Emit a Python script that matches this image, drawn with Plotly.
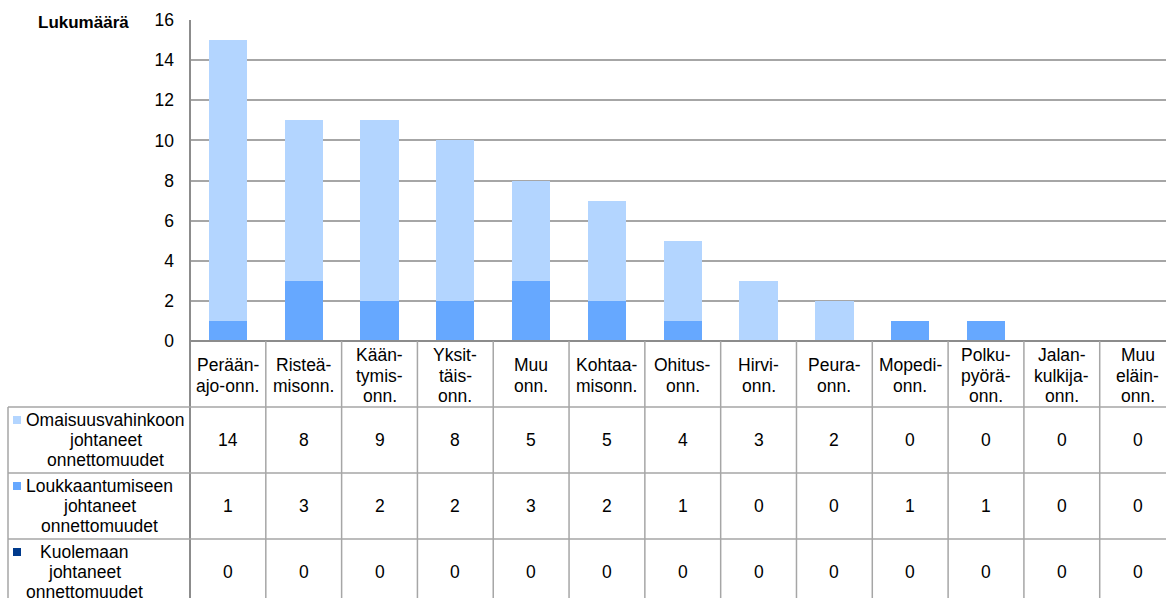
import plotly.graph_objects as go

# ---- data ----
categories = ["Perään-<br>ajo-onn.", "Risteä-<br>misonn.", "Kään-<br>tymis-<br>onn.",
              "Yksit-<br>täis-<br>onn.", "Muu<br>onn.", "Kohtaa-<br>misonn.",
              "Ohitus-<br>onn.", "Hirvi-<br>onn.", "Peura-<br>onn.", "Mopedi-<br>onn.",
              "Polku-<br>pyörä-<br>onn.", "Jalan-<br>kulkija-<br>onn.", "Muu<br>eläin-<br>onn."]
omaisuus = [14, 8, 9, 8, 5, 5, 4, 3, 2, 0, 0, 0, 0]
loukkaantuminen = [1, 3, 2, 2, 3, 2, 1, 0, 0, 1, 1, 0, 0]
kuolema = [0, 0, 0, 0, 0, 0, 0, 0, 0, 0, 0, 0, 0]
series_names = ["Omaisuusvahinkoon<br>johtaneet<br>onnettomuudet",
                "Loukkaantumiseen<br>johtaneet<br>onnettomuudet",
                "Kuolemaan<br>johtaneet<br>onnettomuudet"]
series_values = [omaisuus, loukkaantuminen, kuolema]
series_colors = ["#B3D5FF", "#66A8FF", "#003A8C"]
y_title = "Lukumäärä"

# ---- layout constants ----
W, H = 1166, 598
L, T, B = 190, 20, 257
PW, PH = W - L, H - T - B
ZERO = T + PH
COLW = 75.81
xmin, xmax = -0.5, -0.5 + PW / COLW
FONT = "Arial, Liberation Sans, sans-serif"
GRID = "#A6A6A6"
AXIS = "#8C8C8C"
FS = 17.5


def py(p):
    return (ZERO - p) / PH


def px(p):
    return (p - L) / PW


fig = go.Figure()
stack_order = [2, 1, 0]
for k in stack_order:
    fig.add_trace(go.Bar(
        x=list(range(len(categories))), y=series_values[k],
        name=series_names[k].replace("<br>", " "),
        marker=dict(color=series_colors[k], line=dict(width=0)),
        hoverinfo="skip"))

shapes = []
# axis lines
shapes.append(dict(type="line", xref="paper", yref="paper", x0=0, x1=1, y0=0, y1=0,
                   line=dict(color=AXIS, width=2)))
shapes.append(dict(type="line", xref="paper", yref="paper", x0=0, x1=0, y0=1, y1=py(H + 5),
                   line=dict(color=AXIS, width=2)))
# table column lines
for i in range(1, len(categories) + 1):
    xp = (i - 0.5 - xmin) / (xmax - xmin)
    if xp <= 1:
        shapes.append(dict(type="line", xref="paper", yref="paper", x0=xp, x1=xp,
                           y0=0, y1=py(H + 5), line=dict(color=GRID, width=1.5)))
# table row lines
row_tops = [407, 473, 539]
ROWH = 66
for rt in row_tops:
    shapes.append(dict(type="line", xref="paper", yref="paper", x0=px(8), x1=1,
                       y0=py(rt), y1=py(rt), line=dict(color=GRID, width=1.5)))
shapes.append(dict(type="line", xref="paper", yref="paper", x0=px(8), x1=px(8),
                   y0=py(407), y1=py(H + 5), line=dict(color=GRID, width=1.5)))
# legend keys
for k, rt in enumerate(row_tops):
    shapes.append(dict(type="rect", xref="paper", yref="paper", x0=px(13), x1=px(21),
                       y0=py(rt + 9), y1=py(rt + 17), fillcolor=series_colors[k],
                       line=dict(width=0)))

annotations = []
LINE = 20.5
# category header labels
hdr_center = (ZERO + 407) / 2 + 1.5
for i, cat in enumerate(categories):
    lines = cat.split("<br>")
    n = len(lines)
    for j, t in enumerate(lines):
        yc = hdr_center + (j - (n - 1) / 2) * LINE
        annotations.append(dict(xref="x", yref="paper", x=i, y=py(yc), text=t,
                                showarrow=False, xanchor="center", yanchor="middle",
                                font=dict(size=FS, color="#000", family=FONT)))
# row headers
header_cx = [105.5, 99.5, 84.3]
for k, rt in enumerate(row_tops):
    lines = series_names[k].split("<br>")
    n = len(lines)
    for j, t in enumerate(lines):
        yc = rt + ROWH / 2 + (j - (n - 1) / 2) * 20
        annotations.append(dict(xref="paper", yref="paper", x=px(header_cx[k]), y=py(yc),
                                text=t, showarrow=False, xanchor="center", yanchor="middle",
                                font=dict(size=FS, color="#000", family=FONT)))
    for i, v in enumerate(series_values[k]):
        annotations.append(dict(xref="x", yref="paper", x=i, y=py(rt + ROWH / 2),
                                text=str(v), showarrow=False, xanchor="center",
                                yanchor="middle",
                                font=dict(size=FS, color="#000", family=FONT)))
# y title
annotations.append(dict(xref="paper", yref="paper", x=px(131), y=py(22), text="<b>" + y_title + "</b>",
                        showarrow=False, xanchor="right", yanchor="middle",
                        font=dict(size=17, color="#000", family=FONT)))

fig.update_layout(
    width=W, height=H,
    margin=dict(l=L, r=0, t=T, b=B, pad=0),
    paper_bgcolor="white", plot_bgcolor="white",
    barmode="stack", bargap=0.495,
    showlegend=False,
    xaxis=dict(range=[xmin, xmax], showticklabels=False, showgrid=False, zeroline=False,
               showline=False, ticks="", fixedrange=True),
    yaxis=dict(range=[0, 16], dtick=2, tick0=0, showgrid=True, gridcolor=GRID, gridwidth=1.5,
               zeroline=False, showline=False, ticks="", ticklabelstandoff=15,
               tickfont=dict(size=17.5, color="#000", family=FONT), fixedrange=True),
    shapes=shapes, annotations=annotations,
    font=dict(family=FONT),
)

fig.write_html("out.html", config={"displayModeBar": False})
